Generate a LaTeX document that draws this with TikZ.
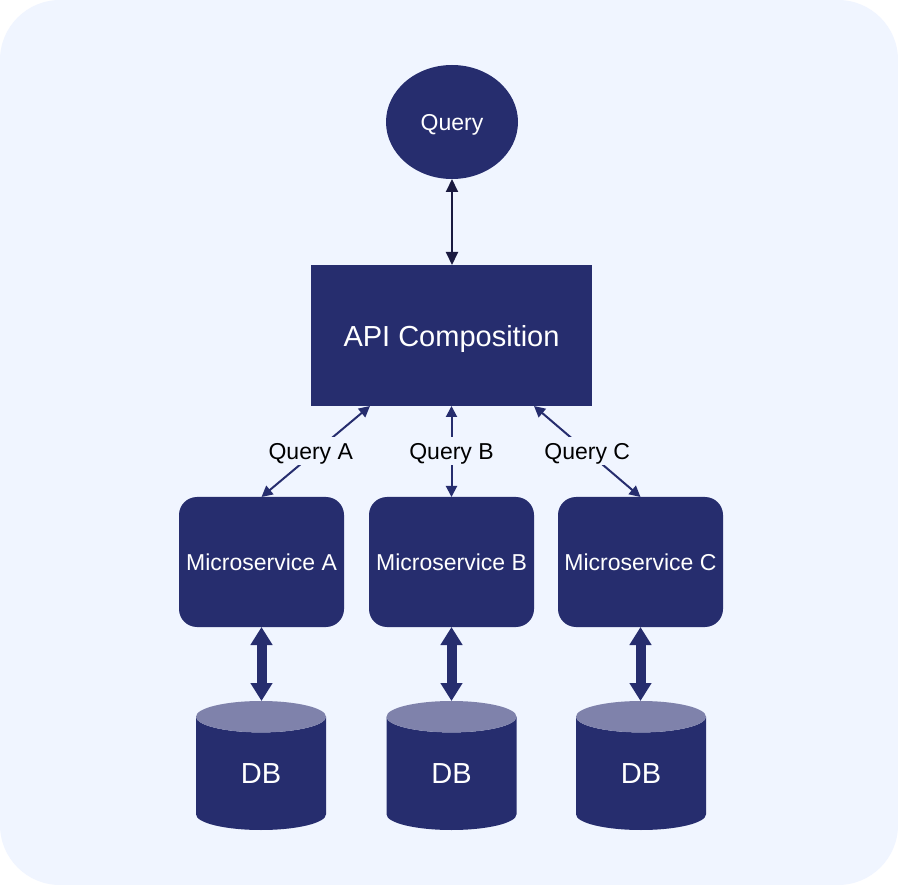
\documentclass[tikz,border=0pt]{standalone}
\usepackage{fontspec}
\setmainfont{Liberation Sans}
\usetikzlibrary{arrows.meta,shapes.geometric}
\definecolor{navy}{HTML}{262D6E}
\definecolor{pale}{HTML}{F0F5FF}
\definecolor{lidblue}{HTML}{7F82AB}
\definecolor{inkblue}{HTML}{1A1A40}
\newcommand{\smalltext}{\fontsize{23}{27}\selectfont}
\newcommand{\bigtext}{\fontsize{29}{34}\selectfont}
\tikzset{
  service/.style={fill=navy, text=white, rounded corners=18pt, minimum width=165pt, minimum height=130pt, inner sep=0pt, outer sep=0pt, font=\smalltext},
  store/.style={cylinder, shape border rotate=90, aspect=0.78, cylinder uses custom fill, cylinder body fill=navy, cylinder end fill=lidblue, minimum width=130pt, minimum height=129pt, inner sep=0pt, outer sep=0pt, anchor=shape center, text=white, font=\bigtext},
  link/.style={<->, >={Triangle[length=11pt, width=11pt]}, navy, line width=2pt},
  dblink/.style={<->, >={Triangle[length=18pt, width=21pt]}, navy, line width=10pt},
  tag/.style={fill=pale, text=black, inner sep=2pt, text depth=0pt, minimum height=28pt, font=\smalltext}
}
\begin{document}
\begin{tikzpicture}[x=1pt, y=-1pt]
\useasboundingbox (0,0) rectangle (898,885);
\fill [white] (0,0) rectangle (898,885);
\fill [pale, rounded corners=60pt] (0,0) rectangle (898,885);
% top of the picture
\node (query) [ellipse, fill=navy, text=white, minimum width=132pt, minimum height=114pt, inner sep=0pt, outer sep=0pt, text depth=0pt, font=\smalltext] at (452,122) {Query};
\node (api) [fill=navy, text=white, minimum width=281pt, minimum height=141pt, inner sep=0pt, outer sep=0pt, text depth=0pt, font=\bigtext] at (451.5,335.5) {API Composition};
\draw [<->, >={Triangle[length=13pt, width=12pt]}, inkblue, line width=2pt] (query.south) -- (query.south |- api.north);
% services
\node (msa) [service] at (261.5,562) {Microservice A};
\node (msb) [service] at (451.5,562) {Microservice B};
\node (msc) [service] at (640.5,562) {Microservice C};
\coordinate (apia) at (370,406);
\coordinate (apic) at (534,406);
\draw [link] (apia) -- (msa.north) node [tag, midway, xshift=-5pt] {Query A};
\draw [link] (api.south) -- (msb.north) node [tag, midway] {Query B};
\draw [link] (apic) -- (msc.north) node [tag, midway] {Query C};
% databases
\node (dba) [store] at (261,765.5) {DB};
\node (dbb) [store] at (451.5,765.5) {DB};
\node (dbc) [store] at (641,765.5) {DB};
\draw [dblink] (msa.south) -- (msa.south |- dba.90);
\draw [dblink] (msb.south) -- (msb.south |- dbb.90);
\draw [dblink] (msc.south) -- (msc.south |- dbc.90);
\end{tikzpicture}
\end{document}
